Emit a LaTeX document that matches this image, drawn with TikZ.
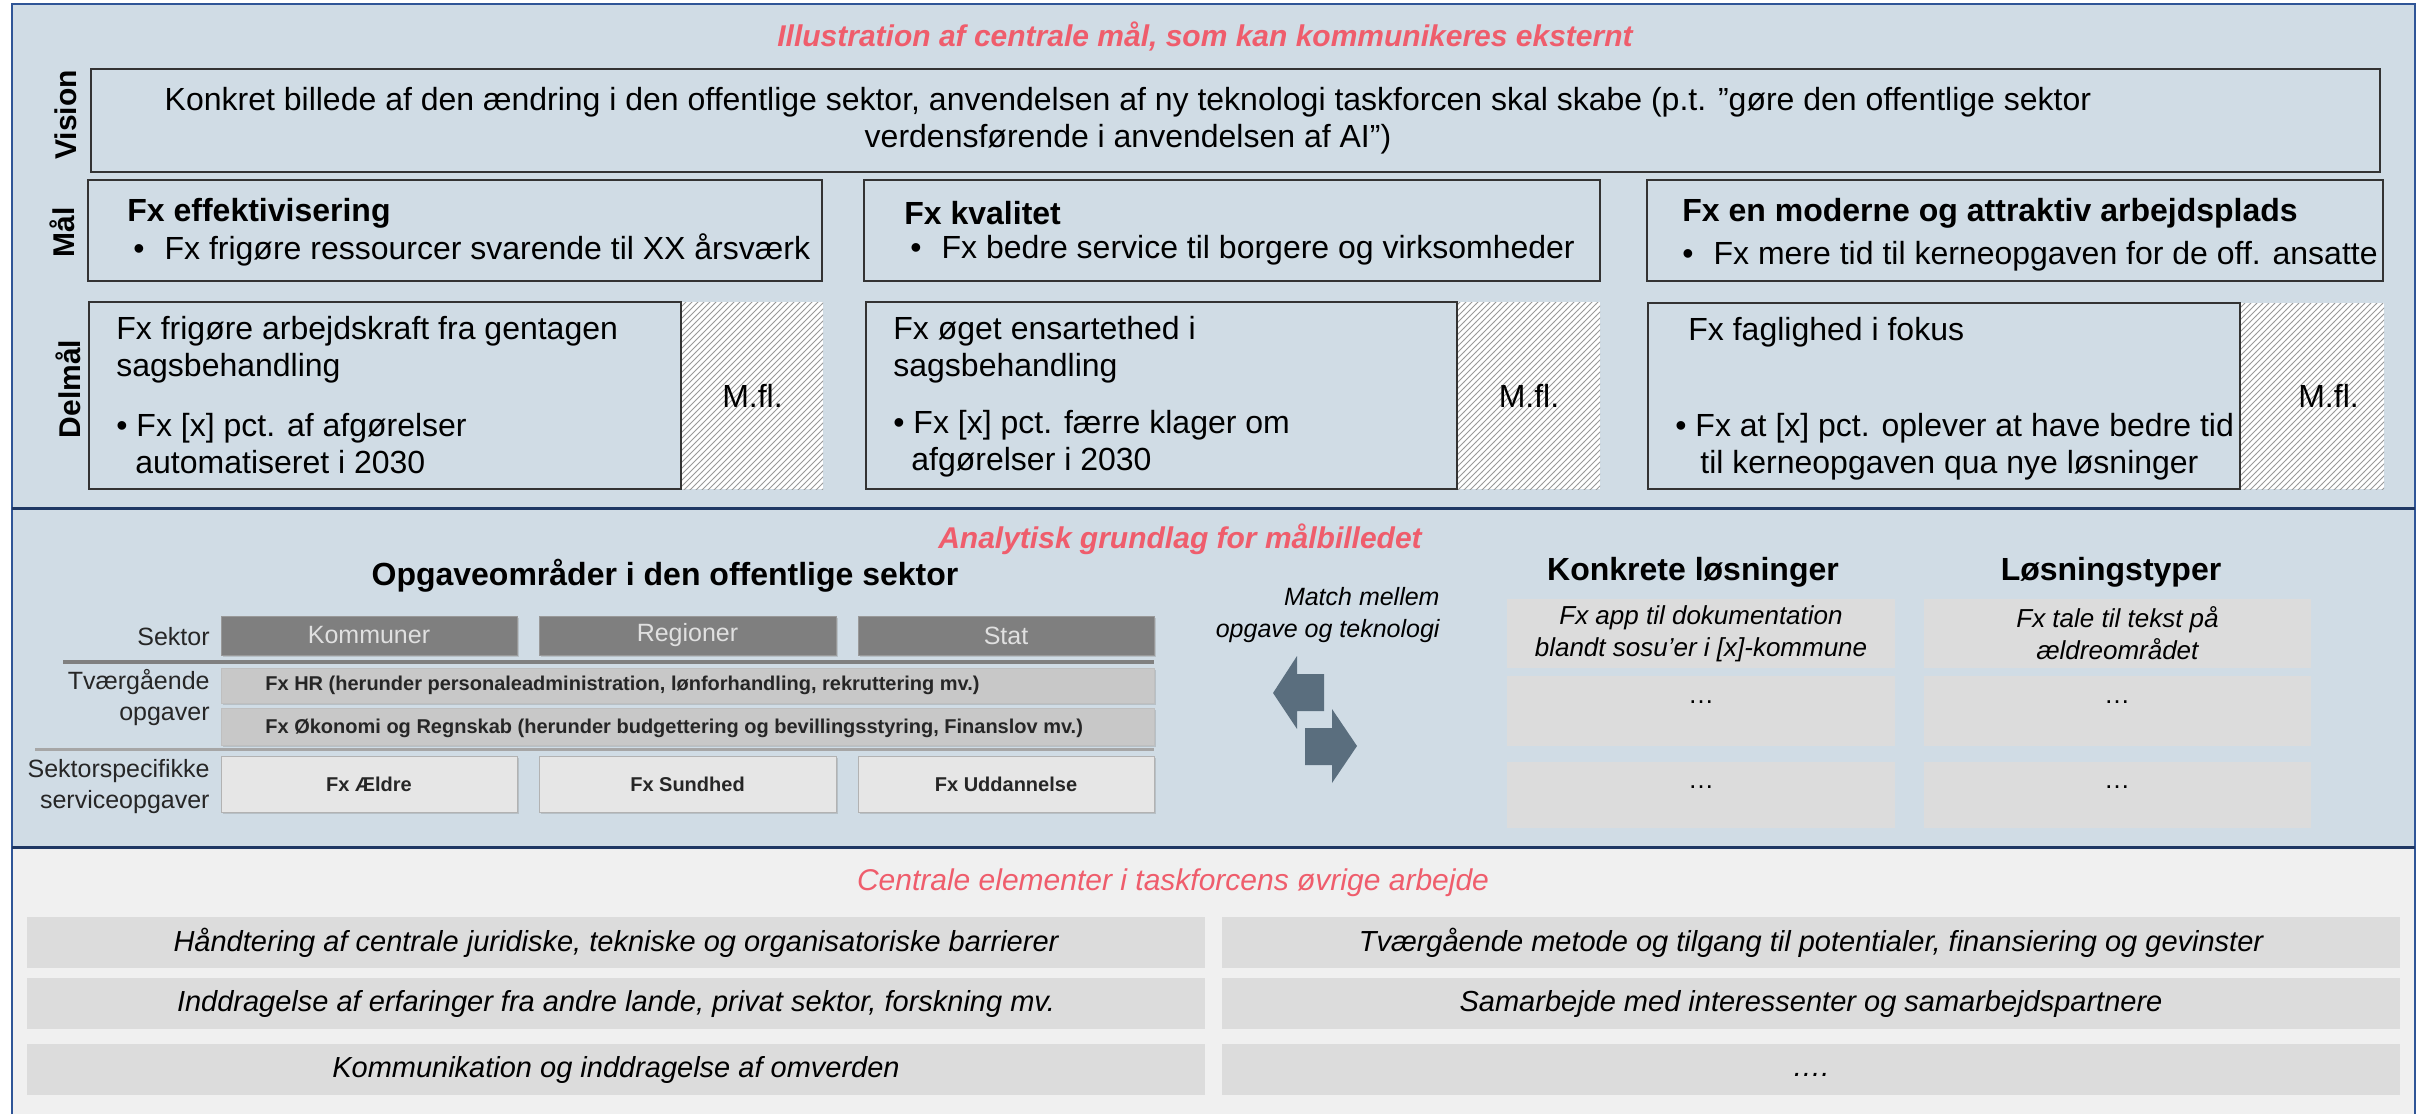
\documentclass[tikz,border=0pt]{standalone}
\usepackage{fontspec}
\setmainfont{Liberation Sans}
\usetikzlibrary{fit,patterns,shadows}
\definecolor{panelblue}{HTML}{D0DCE5}
\definecolor{panelgray}{HTML}{F0F0F0}
\definecolor{framenavy}{HTML}{1F3864}
\definecolor{frameblue}{HTML}{2F5597}
\definecolor{headred}{HTML}{EF5D6C}
\definecolor{cellgray}{HTML}{DCDCDC}
\definecolor{sectordark}{HTML}{7F7F7F}
\definecolor{crossgray}{HTML}{C8C8C8}
\definecolor{taskgray}{HTML}{E6E6E6}
\definecolor{arrowslate}{HTML}{5A6E7E}
\begin{document}
\begin{tikzpicture}[x=0.5pt, y=-0.5pt,
    goalbox/.style={draw=black!80, line width=1pt, inner sep=0pt},
    morebox/.style={fill=white, inner sep=0pt,
      postaction={pattern=north east lines, pattern color=black!40}},
    body/.style={inner sep=0pt, align=left, font=\fontsize{16}{18.5}\selectfont},
    rowlabel/.style={rotate=90, inner sep=0pt, font=\fontsize{15}{18}\selectfont\bfseries},
    heading/.style={inner sep=0pt, text=headred, font=\fontsize{15}{18}\selectfont\bfseries\itshape},
    colhead/.style={inner sep=0pt, font=\fontsize{16}{18}\selectfont\bfseries},
    sidelabel/.style={inner sep=0pt, anchor=east, align=right, text=black!85,
      font=\fontsize{12.5}{15.5}\selectfont},
    cellshadow/.style={drop shadow={shadow xshift=1pt, shadow yshift=-1pt, opacity=.3}},
    sectorcell/.style={cellshadow, fill=sectordark, draw=black!40, inner sep=0pt},
    sectortext/.style={inner sep=0pt, text=black!12, font=\fontsize{12.5}{15}\selectfont},
    crosscell/.style={cellshadow, fill=crossgray, draw=black!25, inner sep=0pt},
    taskcell/.style={cellshadow, fill=taskgray, draw=black!30, inner sep=0pt},
    celltext/.style={inner sep=0pt, text=black!85, font=\fontsize{10}{12}\selectfont\bfseries},
    solcell/.style={fill=cellgray, inner sep=0pt},
    soltext/.style={inner sep=0pt, align=center, font=\fontsize{13}{16}\selectfont\itshape},
    workcell/.style={fill=cellgray, inner sep=0pt},
    worktext/.style={inner sep=0pt, font=\fontsize{14.5}{17}\selectfont\itshape}]
  \useasboundingbox (0,0) rectangle (2420,1114);

  % panels
  \fill[panelblue] (12,4) rectangle (2415,847);
  \fill[panelgray] (12,847) rectangle (2415,1114);
  \draw[frameblue, line width=0.8pt] (12,1114) -- (12,4) -- (2415,4) -- (2415,1114);
  \draw[framenavy, line width=1.5pt] (12,508) -- (2415,508);
  \draw[framenavy, line width=1.5pt] (12,847) -- (2415,847);

  \node[heading] (toptitle) at (1205,36) {Illustration af centrale mål, som kan kommunikeres eksternt};

  % vision
  \node[rowlabel] (lvision) at (66,115) {Vision};
  \node[goalbox, fit={(91,69) (2380,172)}] (vision) {};
  \node[body, align=center] (visiontext) at (1128,121)
    {Konkret billede af den ændring i den offentlige sektor, anvendelsen af ny teknologi taskforcen skal skabe (p.t. ”gøre den offentlige sektor\\verdensførende i anvendelsen af AI”)};

  % maal
  \node[rowlabel] (lmaal) at (62,232) {Mål};
  \node[goalbox, fit={(88,180) (822,281)}] (maal1) {};
  \node[goalbox, fit={(864,180) (1600,281)}] (maal2) {};
  \node[goalbox, fit={(1647,180) (2383,281)}] (maal3) {};
  \node[body, anchor=west] (maal1head) at (127,213) {\bfseries Fx effektivisering};
  \node[body, anchor=west] (maal1item) at (133,250) {\textbullet\hspace{10pt}Fx frigøre ressourcer svarende til XX årsværk};
  \node[body, anchor=west] (maal2head) at (904,213) {\bfseries Fx kvalitet};
  \node[body, anchor=west] (maal2item) at (910,250) {\textbullet\hspace{10pt}Fx bedre service til borgere og virksomheder};
  \node[body, anchor=west] (maal3head) at (1682,213) {\bfseries Fx en moderne og attraktiv arbejdsplads};
  \node[body, anchor=west] (maal3item) at (1682,256) {\textbullet\hspace{10pt}Fx mere tid til kerneopgaven for de off. ansatte};

  % delmaal
  \node[rowlabel] (ldelmaal) at (68,389) {Delmål};
  \node[goalbox, fit={(89,302) (681,489)}] (delmaal1) {};
  \node[morebox, fit={(682,302) (823,489)}] (more1) {};
  \node[goalbox, fit={(866,302) (1457,489)}] (delmaal2) {};
  \node[morebox, fit={(1458,302) (1600,489)}] (more2) {};
  \node[goalbox, fit={(1648,303) (2240,489)}] (delmaal3) {};
  \node[morebox, fit={(2241,303) (2384,489)}] (more3) {};
  \node[body] (more1text) at (more1) {M.fl.};
  \node[body] (more2text) at (more2) {M.fl.};
  \node[body] (more3text) at ([xshift=8pt]more3.center) {M.fl.};
  \node[body, anchor=west] (delmaal1a) at (116,350) {Fx frigøre arbejdskraft fra gentagen\\sagsbehandling};
  \node[body, anchor=west] (delmaal1b) at (116,444) {\textbullet{} Fx [x] pct. af afgørelser\\\hspace*{9.5pt}automatiseret i 2030};
  \node[body, anchor=west] (delmaal2a) at (893,350) {Fx øget ensartethed i\\sagsbehandling};
  \node[body, anchor=west] (delmaal2b) at (893,444) {\textbullet{} Fx [x] pct. færre klager om\\\hspace*{9pt}afgørelser i 2030};
  \node[body, anchor=west] (delmaal3a) at (1688,332) {Fx faglighed i fokus};
  \node[body, anchor=west] (delmaal3b) at (1675,447) {\textbullet{} Fx at [x] pct. oplever at have bedre tid\\\hspace*{12.5pt}til kerneopgaven qua nye løsninger};

  % analytisk grundlag
  \node[heading] (midtitle) at (1180,539) {Analytisk grundlag for målbilledet};
  \node[colhead] (opgavehead) at (665,576) {Opgaveområder i den offentlige sektor};
  \node[sidelabel] (lsektor) at (210,637) {Sektor};
  \node[sectorcell, fit={(221,616) (517,655)}] (kommuner) {};
  \node[sectorcell, fit={(539,616) (836,655)}] (regioner) {};
  \node[sectorcell, fit={(858,616) (1154,655)}] (stat) {};
  \node[sectortext] (kommunertext) at (kommuner) {Kommuner};
  \node[sectortext] (regionertext) at (regioner) {Regioner};
  \node[sectortext] (stattext) at (stat) {Stat};
  \draw[black!50, line width=2pt] (63,662) -- (1154,662);
  \node[sidelabel] (ltvaer) at (210,698) {Tværgående\\opgaver};
  \node[crosscell, fit={(221,668) (1154,703)}] (hr) {};
  \node[celltext, anchor=west] (hrtext) at (265,685) {Fx HR (herunder personaleadministration, lønforhandling, rekruttering mv.)};
  \node[crosscell, fit={(221,708) (1154,745)}] (oekonomi) {};
  \node[celltext, anchor=west] (oekonomitext) at (265,728) {Fx Økonomi og Regnskab (herunder budgettering og bevillingsstyring, Finanslov mv.)};
  \draw[black!35, line width=1.5pt] (35,749) -- (1154,749);
  \node[sidelabel] (lspecifik) at (210,787) {Sektorspecifikke\\serviceopgaver};
  \node[taskcell, fit={(221,756) (517,812)}] (aeldre) {};
  \node[taskcell, fit={(539,756) (836,812)}] (sundhed) {};
  \node[taskcell, fit={(858,756) (1154,812)}] (uddannelse) {};
  \node[celltext] (aeldretext) at (aeldre) {Fx Ældre};
  \node[celltext] (sundhedtext) at (sundhed) {Fx Sundhed};
  \node[celltext] (uddannelsetext) at (uddannelse) {Fx Uddannelse};

  \node[sidelabel, text=black, font=\fontsize{12.5}{16}\selectfont\itshape] (matchtext) at (1440,615) {Match mellem\\opgave og teknologi};
  \fill[arrowslate] (1273,693) -- (1297,656) -- (1297,674) -- (1324,674) -- (1324,711) -- (1297,711) -- (1297,729) -- cycle;
  \fill[arrowslate] (1305,728) -- (1332,728) -- (1332,709) -- (1357,746) -- (1332,783) -- (1332,765) -- (1305,765) -- cycle;

  \node[colhead] (konkrethead) at (1693,572) {Konkrete løsninger};
  \node[colhead] (typehead) at (2111,572) {Løsningstyper};
  \node[solcell, fit={(1507,599) (1895,668)}] (konkret1) {};
  \node[solcell, fit={(1507,676) (1895,746)}] (konkret2) {};
  \node[solcell, fit={(1507,762) (1895,828)}] (konkret3) {};
  \node[solcell, fit={(1924,599) (2311,668)}] (type1) {};
  \node[solcell, fit={(1924,676) (2311,746)}] (type2) {};
  \node[solcell, fit={(1924,762) (2311,828)}] (type3) {};
  \node[soltext] (konkret1text) at (konkret1) {Fx app til dokumentation\\blandt sosu’er i [x]-kommune};
  \node[soltext] (type1text) at (type1) {Fx tale til tekst på\\ældreområdet};
  \node[soltext, font=\fontsize{13}{16}\selectfont] (konkret2dots) at (1701,702) {…};
  \node[soltext, font=\fontsize{13}{16}\selectfont] (konkret3dots) at (1701,787) {…};
  \node[soltext, font=\fontsize{13}{16}\selectfont] (type2dots) at (2117,702) {…};
  \node[soltext, font=\fontsize{13}{16}\selectfont] (type3dots) at (2117,787) {…};

  % oevrige arbejde
  \node[heading, font=\fontsize{15}{18}\selectfont\itshape] (bottomtitle) at (1173,883) {Centrale elementer i taskforcens øvrige arbejde};
  \node[workcell, fit={(27,917) (1205,968)}] (work1) {};
  \node[workcell, fit={(27,978) (1205,1029)}] (work2) {};
  \node[workcell, fit={(27,1044) (1205,1095)}] (work3) {};
  \node[workcell, fit={(1222,917) (2400,968)}] (work4) {};
  \node[workcell, fit={(1222,978) (2400,1029)}] (work5) {};
  \node[workcell, fit={(1222,1044) (2400,1095)}] (work6) {};
  \node[worktext] (work1text) at (work1) {Håndtering af centrale juridiske, tekniske og organisatoriske barrierer};
  \node[worktext] (work2text) at (work2) {Inddragelse af erfaringer fra andre lande, privat sektor, forskning mv.};
  \node[worktext] (work3text) at (work3) {Kommunikation og inddragelse af omverden};
  \node[worktext] (work4text) at (work4) {Tværgående metode og tilgang til potentialer, finansiering og gevinster};
  \node[worktext] (work5text) at (work5) {Samarbejde med interessenter og samarbejdspartnere};
  \node[worktext] (work6text) at (work6) {\strut….};
\end{tikzpicture}
\end{document}
